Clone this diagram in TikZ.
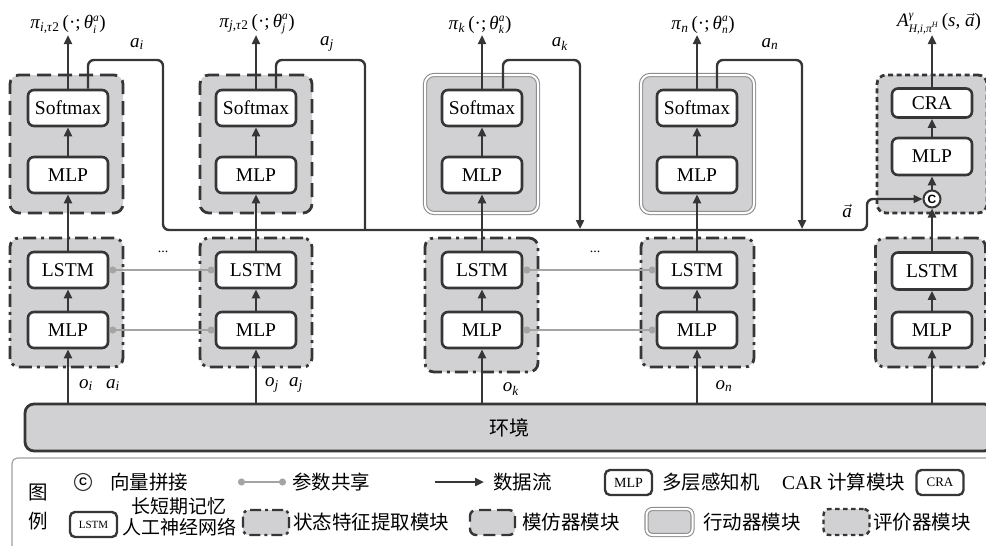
\documentclass[tikz,border=0pt]{standalone}
\usepackage{fontspec}
\setmainfont{Liberation Serif}
\newfontfamily\cjk{Noto Sans CJK SC}
\newfontfamily\sans{Liberation Sans}
\usetikzlibrary{arrows.meta}
\definecolor{ln}{HTML}{363636}
\definecolor{fillg}{HTML}{D1D1D3}
\definecolor{shg}{HTML}{A4A4A4}
\definecolor{actg}{HTML}{8E8E8E}
\definecolor{lgg}{HTML}{A0A0A0}
\newcommand{\mi}[1]{\textit{#1}}
\newcommand{\ssb}[3]{\ensuremath{\mbox{\itshape #1}^{\mbox{\fontsize{11.5}{12}\selectfont\itshape #2}}_{\mbox{\fontsize{11.5}{12}\selectfont\itshape #3}}}}
\tikzset{
 unit/.style={draw=ln, line width=2.6pt, rounded corners=6pt, fill=white, minimum width=80pt, minimum height=36pt, inner sep=0pt, font=\fontsize{19.5}{20}\selectfont},
 grp/.style={draw=ln, line width=2.8pt, fill=fillg, rounded corners=9pt, inner sep=0pt},
 imit/.style={grp, dash pattern=on 14pt off 7pt},
 feat/.style={grp, dash pattern=on 13pt off 5pt on 3pt off 5pt},
 crit/.style={grp, dash pattern=on 5pt off 3.5pt},
 actor/.style={draw=actg, double=white, double distance=2pt, line width=1.1pt, fill=fillg, rounded corners=9pt, inner sep=0pt},
 flow/.style={draw=ln, line width=2.4pt, -{Triangle[length=9pt,width=8pt]}},
 wire/.style={draw=ln, line width=2.4pt, rounded corners=6pt},
 share/.style={draw=shg, line width=1.8pt, {Circle[length=7pt]}-{Circle[length=7pt]}},
 lab/.style={font=\fontsize{19}{20}\selectfont, inner sep=1pt},
 cjkt/.style={font=\cjk\fontsize{19.5}{22}\selectfont, inner sep=0pt},
 lunit/.style={draw=ln, line width=2.4pt, rounded corners=5pt, fill=white, minimum width=47pt, minimum height=25pt, inner sep=0pt},
}
\begin{document}
\begin{tikzpicture}[x=1pt,y=-1pt]
\useasboundingbox (0,0) rectangle (986,546);
\clip (0,0) rectangle (986,546);
% group boxes
\node[imit, minimum width=113pt, minimum height=138pt] (gi) at (66.5,144) {};
\node[imit, minimum width=112pt, minimum height=138pt] (gj) at (256,144) {};
\node[actor, minimum width=113pt, minimum height=138pt] (gk) at (481.5,144) {};
\node[actor, minimum width=113pt, minimum height=138pt] (gn) at (697.5,144) {};
\node[crit, minimum width=110pt, minimum height=138pt] (gc) at (932,144) {};
\node[feat, minimum width=113pt, minimum height=129pt] (fi) at (66.5,302.5) {};
\node[feat, minimum width=112pt, minimum height=129pt] (fj) at (256,302.5) {};
\node[feat, minimum width=113pt, minimum height=134pt] (fk) at (481.5,305) {};
\node[feat, minimum width=113pt, minimum height=129pt] (fn) at (697.5,302.5) {};
\node[feat, minimum width=110pt, minimum height=129pt] (fc) at (930.5,302.5) {};
% environment
\node[grp, minimum width=968pt, minimum height=47pt, font=\cjk\fontsize{20}{22}\selectfont] (env) at (509,427.5) {环境};
% legend frame
\node[draw=lgg, line width=1.2pt, rounded corners=6pt, minimum width=990pt, minimum height=110pt] (leg) at (507,513) {};
% units
\foreach \n/\x in {i/68,j/256,k/482,n/697}{
  \node[unit] (sm\n) at (\x,108) {Softmax};
  \node[unit] (mu\n) at (\x,175) {MLP};
  \node[unit] (ls\n) at (\x,270) {LSTM};
  \node[unit] (ml\n) at (\x,330) {MLP};
}
\node[unit, minimum height=29pt] (cra) at (932,103) {CRA};
\node[unit, minimum height=37pt] (muc) at (932,156.5) {MLP};
\node[draw=ln, fill=white, circle, line width=2pt, minimum size=17pt, inner sep=0pt, font=\sans\bfseries\fontsize{12}{12}\selectfont] (cc) at (932,199) {C};
\node[unit, minimum height=37pt] (lsc) at (932,271) {LSTM};
\node[unit] (mlc) at (932,330) {MLP};
% output labels
\node[lab, anchor=south] (pii) at (68,35) {\mi{π}\textsubscript{\mi{i},\mi{τ}2}\,(·;\,\ssb{θ}{a}{i})};
\node[lab, anchor=south] (pij) at (257,35) {\mi{π}\textsubscript{\mi{j},\mi{τ}2}\,(·;\,\ssb{θ}{a}{j})};
\node[lab, anchor=south] (pik) at (480,35) {\mi{π}\textsubscript{\mi{k}}\,(·;\,\ssb{θ}{a}{k})};
\node[lab, anchor=south] (pin) at (703,35) {\mi{π}\textsubscript{\mi{n}}\,(·;\,\ssb{θ}{a}{n})};
\node[lab, anchor=south] (alab) at (939,35) {\ssb{A}{γ}{H,i,π\textsuperscript{H}}\,(\mi{s}, $\vec{\hbox{\itshape a}}$)};
\foreach \n in {i,j,k,n}{
  \draw[flow] (sm\n.north) -- (sm\n.north |- pi\n.south);
  \draw[flow] (mu\n.north) -- (sm\n.south);
  \draw[flow] (ls\n.north) -- (mu\n.south);
  \draw[flow] (ml\n.north) -- (ls\n.south);
  \draw[flow] (env.north -| ml\n) -- (ml\n.south);
}
\draw[flow] (cra.north) -- (cra.north |- alab.south);
\draw[flow] (muc.north) -- (cra.south);
\draw[flow] (cc.north) -- (muc.south);
\draw[flow] (lsc.north) -- (cc.south);
\draw[flow] (mlc.north) -- (lsc.south);
\draw[flow] (env.north -| mlc) -- (mlc.south);
% action wires
\coordinate (ti) at (88,60);  \coordinate (bi) at (163,230); \coordinate (bend) at (867,230);
\coordinate (tj) at (276,60); \coordinate (bj) at (365,230);
\coordinate (tk) at (503,60); \coordinate (bk) at (580,229);
\coordinate (tn) at (717,60); \coordinate (bn) at (802,229);
\draw[wire, -{Triangle[length=9pt,width=8pt]}] (smi.north -| ti) -- (ti) -| (bi) -- (bend) |- (cc.west);
\draw[wire] (smj.north -| tj) -- (tj) -| (bj);
\draw[wire, -{Triangle[length=9pt,width=8pt]}] (smk.north -| tk) -- (tk) -| (bk);
\draw[wire, -{Triangle[length=9pt,width=8pt]}] (smn.north -| tn) -- (tn) -| (bn);
\node[lab] (lai) at (137,44) {\mi{a}\textsubscript{\mi{i}}};
\node[lab] (laj) at (327,44) {\mi{a}\textsubscript{\mi{j}}};
\node[lab] (lak) at (560,44) {\mi{a}\textsubscript{\mi{k}}};
\node[lab] (lan) at (770,44) {\mi{a}\textsubscript{\mi{n}}};
\node[lab] (lvec) at (847,211) {$\vec{\hbox{\itshape a}}$};
% parameter sharing
\draw[share] (lsi.east) -- (lsj.west);
\draw[share] (mli.east) -- (mlj.west);
\draw[share] (lsk.east) -- (lsn.west);
\draw[share] (mlk.east) -- (mln.west);
\node[font=\fontsize{14}{14}\selectfont] (dots1) at (163,252) {...};
\node[font=\fontsize{14}{14}\selectfont] (dots2) at (595,252) {...};
% observation labels
\node[lab] (oi) at (86,385) {\mi{o}\textsubscript{\mi{i}}};
\node[lab] (oai) at (113,385) {\mi{a}\textsubscript{\mi{i}}};
\node[lab] (oj) at (272,385) {\mi{o}\textsubscript{\mi{j}}};
\node[lab] (oaj) at (296,385) {\mi{a}\textsubscript{\mi{j}}};
\node[lab] (ok) at (511,389) {\mi{o}\textsubscript{\mi{k}}};
\node[lab] (on) at (724,386) {\mi{o}\textsubscript{\mi{n}}};
% legend
\node[cjkt] (lt1) at (38,493) {图};
\node[cjkt] (lt2) at (38,521) {例};
\node[draw=ln, circle, line width=1.1pt, minimum size=17pt, inner sep=0pt, font=\sans\bfseries\fontsize{11}{11}\selectfont] (lc) at (83,482) {C};
\node[cjkt, anchor=west] (lct) at (110,482) {向量拼接};
\coordinate (ls1) at (238,482); \coordinate (ls2) at (286,482);
\draw[share] (ls1) -- (ls2);
\node[cjkt, anchor=west] (lst) at (292,482) {参数共享};
\coordinate (la1) at (435,482); \coordinate (la2) at (484,482);
\draw[flow] (la1) -- (la2);
\node[cjkt, anchor=west] (lat) at (493,482) {数据流};
\node[lunit, font=\fontsize{14}{14}\selectfont] (lmlp) at (628.5,482.5) {MLP};
\node[cjkt, anchor=west] (lmt) at (662,482) {多层感知机};
\node[anchor=west, inner sep=0pt, font=\fontsize{19.5}{22}\selectfont] (lcar) at (782,482) {CAR {\cjk 计算模块}};
\node[lunit, font=\fontsize{13}{13}\selectfont] (lcra) at (940,482.5) {CRA};
\node[lunit, font=\fontsize{11}{11}\selectfont] (llstm) at (93.5,524.5) {LSTM};
\node[cjkt, align=center, font=\cjk\fontsize{19}{21}\selectfont] (llt) at (179,517) {长短期记忆\\人工神经网络};
\node[grp, line width=2.4pt, dash pattern=on 11pt off 4pt on 3pt off 4pt, rounded corners=6pt, minimum width=46pt, minimum height=25pt] (lfe) at (266,522.5) {};
\node[cjkt, anchor=west] (lfet) at (293,522) {状态特征提取模块};
\node[grp, line width=2.4pt, dash pattern=on 12pt off 6pt, rounded corners=6pt, minimum width=45pt, minimum height=25pt] (lim) at (492.5,522.5) {};
\node[cjkt, anchor=west] (limt) at (522,522) {模仿器模块};
\node[actor, rounded corners=6pt, minimum width=46pt, minimum height=26pt] (lac) at (669.5,522) {};
\node[cjkt, anchor=west] (lact) at (703,522) {行动器模块};
\node[grp, line width=2.4pt, dash pattern=on 4.5pt off 3.5pt, rounded corners=6pt, minimum width=46pt, minimum height=26pt] (lcr) at (846.5,522) {};
\node[cjkt, anchor=west] (lcrt) at (873,522) {评价器模块};
\end{tikzpicture}
\end{document}
